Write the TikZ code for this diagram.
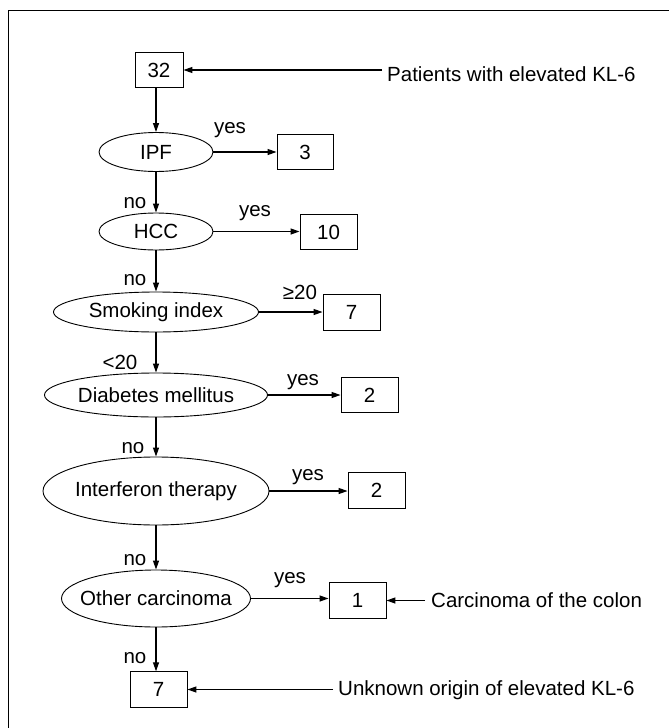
\documentclass[tikz,border=0pt]{standalone}
\usepackage{fontspec}
\setmainfont{Liberation Sans}
\usetikzlibrary{shapes.geometric,arrows.meta}
\begin{document}
\begin{tikzpicture}[x=1pt,y=-1pt,
  every node/.style={font=\fontsize{20.5}{24}\selectfont},
  qbox/.style={draw,line width=0.9pt,rectangle,minimum width=57pt,minimum height=35.5pt,inner sep=0pt},
  qell/.style={draw,line width=0.9pt,ellipse,inner sep=0pt},
  arr/.style={line width=1.2pt,-{Triangle[length=9pt,width=6pt]}},
  lbl/.style={inner sep=0pt}]
\useasboundingbox (0,0) rectangle (669,728);
\draw[line width=1pt] (669,10) -- (8,10) -- (8,728);

% nodes
\node[qbox,minimum width=48pt] (n32) at (159,70) {32};
\node[qell,minimum width=114pt,minimum height=39pt] (ipf) at (156,152) {\makebox[0pt]{IPF}};
\node[qbox,minimum width=56pt] (b3) at (305,152) {3};
\node[qell,minimum width=114pt,minimum height=37pt] (hcc) at (156,231.5) {\makebox[0pt]{HCC}};
\node[qbox] (b10) at (328.5,232) {10};
\node[qell,minimum width=205pt,minimum height=40pt] (smk) at (156,312) {\makebox[0pt]{Smoking index}};
\node[qbox] (b7a) at (351.5,312.5) {7};
\node[qell,minimum width=223pt,minimum height=44pt] (dm) at (156,395) {\makebox[0pt]{Diabetes mellitus}};
\node[qbox] (b2a) at (369.5,395) {2};
\node[qell,minimum width=226pt,minimum height=68pt] (ifn) at (156,491) {\makebox[0pt]{Interferon therapy}};
\node[qbox] (b2b) at (376.5,490.5) {2};
\node[qell,minimum width=189pt,minimum height=57pt] (oth) at (156,598.5) {\makebox[0pt]{Other carcinoma}};
\node[qbox] (b1) at (357.5,600.5) {1};
\node[qbox] (b7b) at (158.5,689.5) {7};

% side texts
\node[lbl,anchor=base west] (t1) at (387,81) {Patients with elevated KL-6};
\node[lbl,anchor=base west] (t2) at (431,607) {Carcinoma of the colon};
\node[lbl,anchor=base west] (t3) at (338,695) {Unknown origin of elevated KL-6};

% edge labels
\node[lbl] (y1) at (230,130) {yes};
\node[lbl] (y2) at (255,213) {yes};
\node[lbl] (y3) at (300,292) {≥20};
\node[lbl] (y4) at (303,382) {yes};
\node[lbl] (y5) at (308,477) {yes};
\node[lbl] (y6) at (290,580) {yes};
\node[lbl] (m1) at (135,203) {no};
\node[lbl] (m2) at (135,280) {no};
\node[lbl] (m3) at (120,362) {<20};
\node[lbl] (m4) at (133,448) {no};
\node[lbl] (m5) at (135,560) {no};
\node[lbl] (m6) at (135,658) {no};

% vertical arrows
\draw[arr] (ipf.north |- n32.south) -- (ipf.north);
\draw[arr] (ipf.south) -- (hcc.north);
\draw[arr] (hcc.south) -- (smk.north);
\draw[arr] (smk.south) -- (dm.north);
\draw[arr] (dm.south) -- (ifn.north);
\draw[arr] (ifn.south) -- (oth.north);
\draw[arr] (oth.south) -- (oth.south |- b7b.north);

% horizontal arrows
\draw[arr] (ipf.east) -- (ipf.east -| b3.west);
\draw[arr] (hcc.east) -- (hcc.east -| b10.west);
\draw[arr] (smk.east) -- (smk.east -| b7a.west);
\draw[arr] (dm.east) -- (dm.east -| b2a.west);
\draw[arr] (ifn.east) -- (ifn.east -| b2b.west);
\draw[arr] (oth.east) -- (oth.east -| b1.west);

% side arrows
\draw[arr] ([xshift=-5pt]n32.east -| t1.west) -- (n32.east);
\draw[arr] ([xshift=-6pt]b1.east -| t2.west) -- (b1.east);
\draw[arr] ([xshift=-5pt]b7b.east -| t3.west) -- (b7b.east);
\end{tikzpicture}
\end{document}
